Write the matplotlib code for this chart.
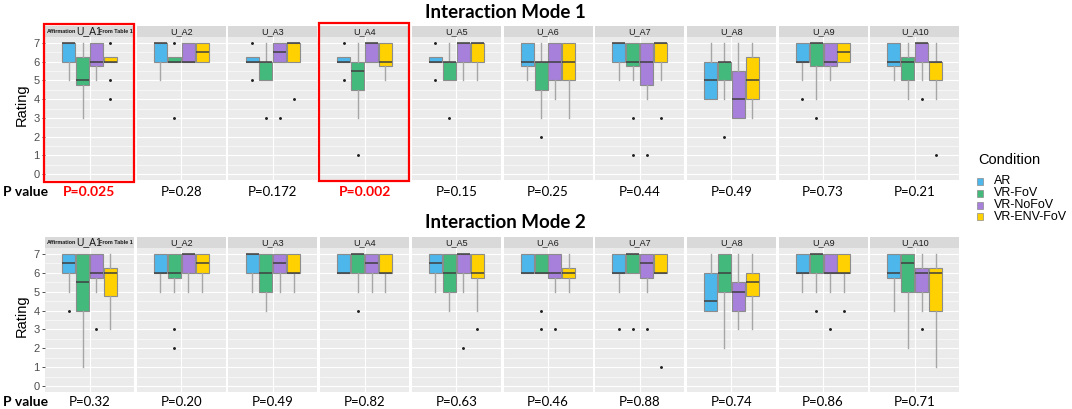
import numpy as np
import matplotlib
matplotlib.use("Agg")
import matplotlib.pyplot as plt
from matplotlib.patches import Rectangle

plt.rcParams["font.family"] = ["Liberation Sans", "DejaVu Sans"]

# Data (box stats per item, order: AR, VR-FoV, VR-NoFoV, VR-ENV-FoV)
conditions = ["AR", "VR-FoV", "VR-NoFoV", "VR-ENV-FoV"]
colors = ["#4DB6EA", "#43B97C", "#A680DA", "#FFD100"]
items = ["U_A%d" % i for i in range(1, 11)]

m1_q1 = [[6, 4.75, 5.75, 6], [6, 6, 6, 6], [6, 5, 6, 6], [6, 4.5, 6, 5.75], [6, 5, 6, 6],
         [5.75, 4.5, 5, 5], [6, 5.75, 4.75, 6], [4, 5, 3, 4], [6, 5.75, 5.75, 6], [5.75, 5, 6, 5]]
m1_med = [[7, 5, 6, 6], [7, 6, 6, 6.5], [6, 6, 6.5, 7], [6, 5.5, 7, 6], [6, 6, 7, 7],
          [6, 6, 6, 6], [7, 6, 6, 7], [5, 6, 4, 5], [6, 7, 6, 6.5], [6, 6, 7, 6]]
m1_q3 = [[7, 6.25, 7, 6.25], [7, 6.25, 7, 7], [6.25, 6, 7, 7], [6.25, 6, 7, 7], [6.25, 6, 7, 7],
         [7, 6, 7, 7], [7, 7, 7, 7], [6, 6, 5.5, 6.25], [7, 7, 7, 7], [7, 6.25, 7, 6]]
m1_lo = [[5, 3, 5, 6], [5, 6, 6, 6], [6, 5, 6, 6], [6, 3, 6, 5], [6, 5, 5, 5],
         [5, 3, 4, 3], [5, 5, 4, 5], [4, 4, 3, 3], [5, 4, 5, 6], [5, 4, 5, 4]]
m1_hi = [[7, 7, 7, 6.25], [7, 6.25, 7, 7], [6.25, 7, 7, 7], [6.25, 7, 7, 7], [6.25, 7, 7, 7],
         [7, 7, 7, 7], [7, 7, 7, 7], [7, 7, 7, 7], [7, 7, 7, 7], [7, 7, 7, 7]]
m1_fliers = [[[], [], [], [7, 5, 4]], [[], [7, 3], [], []], [[7, 5], [3], [3], [4]],
             [[7, 5], [1], [], []], [[7, 5], [3], [], []], [[], [2], [], []],
             [[], [3, 1], [1], [3]], [[], [2], [], []], [[4], [3], [], []], [[], [], [4], [1]]]
m1_p = ["P=0.025", "P=0.28", "P=0.172", "P=0.002", "P=0.15",
        "P=0.25", "P=0.44", "P=0.49", "P=0.73", "P=0.21"]

m2_q1 = [[6, 4, 5.75, 4.75], [6, 5.75, 6, 6], [6, 5, 6, 6], [6, 6, 6, 6], [6, 5, 6, 5.75],
         [6, 6, 5.75, 5.75], [6, 6, 5.75, 6], [4, 5, 4, 4.75], [6, 6, 6, 6], [5.75, 5, 5, 4]]
m2_med = [[6.5, 5.5, 6, 6], [6, 6, 7, 6.5], [7, 6, 6.5, 6], [6, 7, 6.5, 6], [6.5, 6, 7, 6],
          [6, 6, 6, 6], [6, 7, 6.5, 6], [4.5, 6, 5, 5.5], [6, 7, 6, 6], [6, 6.5, 6, 6]]
m2_q3 = [[7, 7, 7, 6.25], [7, 7, 7, 7], [7, 7, 7, 7], [7, 7, 7, 7], [7, 7, 7, 7],
         [7, 7, 7, 6.25], [7, 7, 7, 7], [6, 7, 5.5, 6], [7, 7, 7, 7], [7, 7, 6.25, 6.25]]
m2_lo = [[5, 1, 5, 3], [5, 5, 5, 5], [5, 4, 5, 5], [6, 5, 5, 5], [5, 4, 5, 4],
         [6, 6, 5, 5], [5, 6, 5, 6], [4, 2, 3, 3], [5, 5, 5, 5], [4, 2, 4, 1]]
m2_hi = [[7, 7, 7, 7]] * 10
m2_fliers = [[[4], [], [3], []], [[], [3, 2], [], []], [[], [], [], []], [[], [4], [], []],
             [[], [], [2], [3]], [[], [4, 3], [3], []], [[3], [3], [3], [1]],
             [[], [], [], []], [[], [4], [3], [4]], [[], [], [3], []]]
m2_p = ["P=0.32", "P=0.20", "P=0.49", "P=0.82", "P=0.63",
        "P=0.46", "P=0.88", "P=0.74", "P=0.86", "P=0.71"]
red_p = ["P=0.025", "P=0.002"]

W, H = 1072, 409
fig = plt.figure(figsize=(W / 100, H / 100), dpi=100)


def fbox(x0, y0, w, h):
    # pixel box (top-left origin) -> figure fraction
    return [x0 / W, 1 - (y0 + h) / H, w / W, h / H]


def ftxt(x, y, s, **kw):
    fig.text(x / W, 1 - y / H, s, **kw)


left0, step, pw = 45, 91.7, 89
pos = 1 + np.array([-1.5, -0.5, 0.5, 1.5]) * 0.1875

rows = [
    (26, 37, 180, m1_q1, m1_med, m1_q3, m1_lo, m1_hi, m1_fliers, m1_p, 192),
    (237, 248, 392, m2_q1, m2_med, m2_q3, m2_lo, m2_hi, m2_fliers, m2_p, 402),
]

for (stop, ptop, pbot, q1, med, q3, lo, hi, fl, pv, py) in rows:
    for i in range(10):
        x0 = left0 + i * step
        ax = fig.add_axes(fbox(x0, ptop, pw, pbot - ptop))
        ax.set_facecolor("#EBEBEB")
        ax.set_xlim(0.4, 1.6)
        ax.set_ylim(-0.32, 7.32)
        for v in np.arange(0, 7.6, 0.5):
            ax.axhline(v, color="white", lw=0.8 if v % 1 == 0 else 0.4, zorder=0)
        ax.axvline(1, color="white", lw=0.8, zorder=0)
        stats = []
        for k in range(4):
            stats.append(dict(q1=q1[i][k], med=med[i][k], q3=q3[i][k],
                              whislo=lo[i][k], whishi=hi[i][k], fliers=fl[i][k]))
        bp = ax.bxp(stats, positions=pos, widths=0.175, patch_artist=True, showcaps=False,
                    boxprops=dict(edgecolor="#8C8C8C", lw=0.8),
                    medianprops=dict(color="#404040", lw=1.1),
                    whiskerprops=dict(color="#A6A6A6", lw=1.0),
                    flierprops=dict(marker="o", markersize=1.1, markerfacecolor="#222222",
                                    markeredgecolor="#222222"))
        for patch, c in zip(bp["boxes"], colors):
            patch.set_facecolor(c)
        for s in ax.spines.values():
            s.set_visible(False)
        ax.set_xticks([])
        if i == 0:
            ax.set_yticks(range(8))
            ax.tick_params(axis="y", length=2.5, width=0.6, color="#333333",
                           labelsize=8, labelcolor="#4D4D4D", pad=1.5)
        else:
            ax.set_yticks([])
        # strip
        sax = fig.add_axes(fbox(x0, stop, pw, ptop - stop))
        sax.set_facecolor("#D9D9D9")
        sax.set_xticks([])
        sax.set_yticks([])
        for s in sax.spines.values():
            s.set_visible(False)
        if i == 0:
            sax.text(0.5, 0.5, items[i], ha="center", va="center", fontsize=7.5,
                     color="#1A1A1A", transform=sax.transAxes)
            sax.text(0.02, 0.5, "Affirmation", ha="left", va="center", fontsize=4.0,
                     fontweight="bold", color="#1A1A1A", transform=sax.transAxes)
            sax.text(0.99, 0.5, "From Table 1", ha="right", va="center", fontsize=4.0,
                     fontweight="bold", color="#1A1A1A", transform=sax.transAxes)
        else:
            sax.text(0.5, 0.5, items[i], ha="center", va="center", fontsize=6.5,
                     color="#1A1A1A", transform=sax.transAxes)
        # p values
        red = pv[i] in red_p
        ftxt(x0 + pw / 2, py, pv[i], ha="center", va="center", family="Lato",
             fontsize=10 if red else 9.5, color="#FF0000" if red else "black",
             fontweight="bold" if red else "normal")
    ftxt(3, py, "P value", ha="left", va="center", family="Lato", fontsize=10,
         fontweight="bold")
    ftxt(22, (ptop + pbot) / 2 - 4, "Rating", ha="center", va="center", rotation=90,
         fontsize=10.5)

ftxt(505, 13, "Interaction Mode 1", ha="center", va="center", family="Lato",
     fontsize=13.5, fontweight="bold")
ftxt(505, 223, "Interaction Mode 2", ha="center", va="center", family="Lato",
     fontsize=13.5, fontweight="bold")

# red highlight frames
for (rx0, ry0, rx1, ry1) in [(44, 24, 134, 182), (319, 23, 409, 181)]:
    b = fbox(rx0, ry0, rx1 - rx0, ry1 - ry0)
    fig.patches.append(Rectangle((b[0], b[1]), b[2], b[3], transform=fig.transFigure,
                                 fill=False, edgecolor="#FF0000", lw=1.6, zorder=10))

# legend
ftxt(978, 160, "Condition", ha="left", va="center", fontsize=10.5)
for k, (name, c) in enumerate(zip(conditions, colors)):
    yc = 181 + k * 12
    b = fbox(977, yc - 3.5, 5.5, 7)
    fig.patches.append(Rectangle((b[0], b[1]), b[2], b[3], transform=fig.transFigure,
                                 facecolor=c, edgecolor="#8C8C8C", lw=0.5))
    ftxt(994, yc, name, ha="left", va="center", fontsize=9)

fig.savefig("out.png", dpi=100)
